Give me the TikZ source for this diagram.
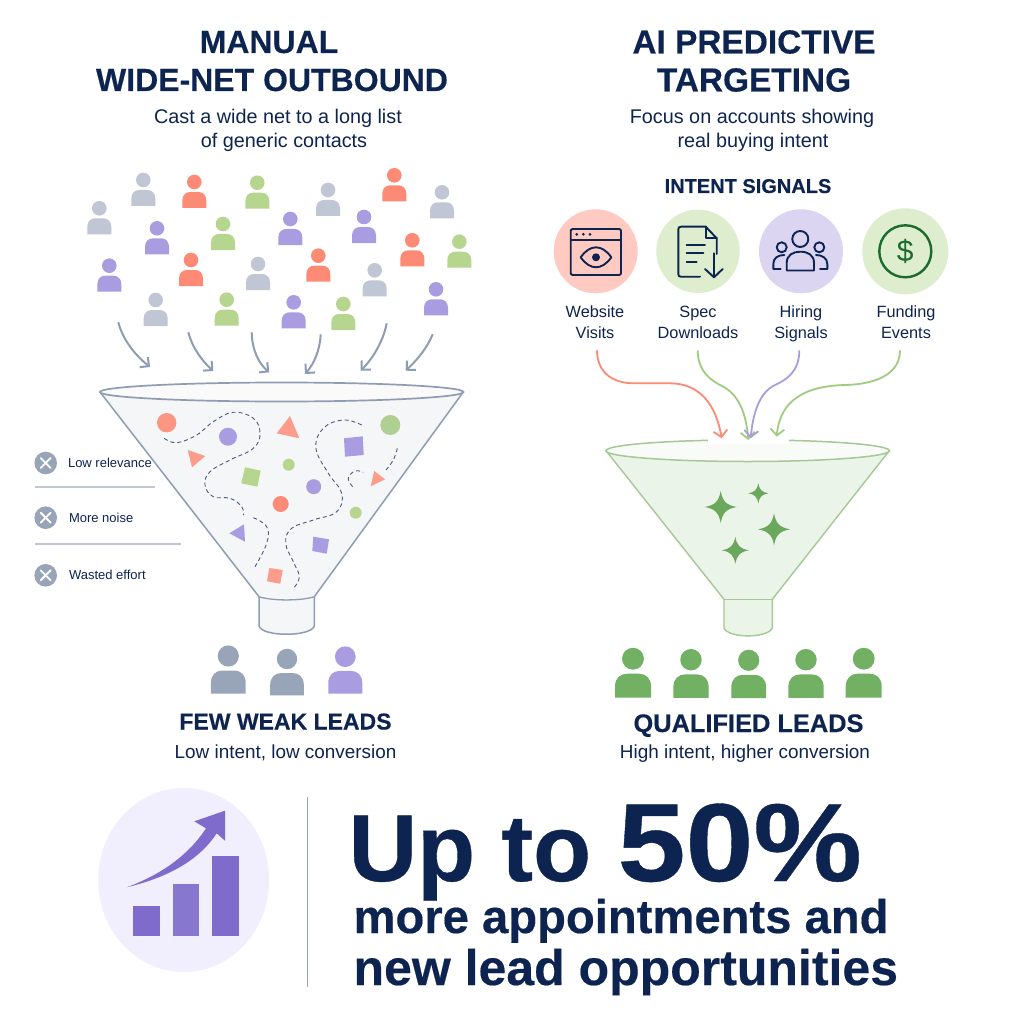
\documentclass[tikz,border=0pt]{standalone}
\usepackage{fontspec}
\setmainfont{Liberation Sans}
\newfontfamily\heavyfont{Liberation Sans}[BoldFeatures={FakeBold=0.35}]
\newfontfamily\wideheavy{Liberation Sans}[BoldFeatures={FakeBold=0.35,FakeStretch=1.1}]
\usetikzlibrary{arrows.meta}

\definecolor{navy}{HTML}{0E2450}
\definecolor{leadgrey}{HTML}{C0C6D3}
\definecolor{leadcoral}{HTML}{FC8A75}
\definecolor{leadgreen}{HTML}{B6D68F}
\definecolor{leadpurple}{HTML}{AA9CE0}
\definecolor{slateline}{HTML}{8E9DB3}
\definecolor{slatefill}{HTML}{98A5B8}
\definecolor{okgreen}{HTML}{72B063}
\definecolor{okline}{HTML}{A5C896}
\definecolor{dollargreen}{HTML}{1B6A2E}
\definecolor{barpurple}{HTML}{7E6BCB}
\definecolor{paleviolet}{HTML}{F1EEFD}

\newcommand{\fs}[1]{\fontsize{#1}{#1}\selectfont}

% x, y of the head centre, size, colour
\newcommand{\leadperson}[4]{
  \begin{scope}[shift={(#1,#2)},scale=#3]
    \fill[#4] (0,0) circle (7.3);
    \fill[#4] (-12,26) -- (-12,18.5) .. controls (-12,13) and (-8.5,10) .. (-4,10) -- (4,10)
      .. controls (8.5,10) and (12,13) .. (12,18.5) -- (12,26) -- cycle;
  \end{scope}
}
% x, y, reach
\newcommand{\sparkle}[3]{
  \begin{scope}[shift={(#1,#2)},scale=#3]
    \fill[okgreen!95!black] (0,-1) .. controls (0.12,-0.35) and (0.35,-0.12) .. (1,0)
      .. controls (0.35,0.12) and (0.12,0.35) .. (0,1)
      .. controls (-0.12,0.35) and (-0.35,0.12) .. (-1,0)
      .. controls (-0.35,-0.12) and (-0.12,-0.35) .. (0,-1) -- cycle;
  \end{scope}
}

\begin{document}
\begin{tikzpicture}[x=1pt,y=-1pt,
    title/.style={anchor=base,text=navy,font=\heavyfont\fs{32}\bfseries},
    subtitle/.style={anchor=base,text=navy,font=\fs{19.8}},
    outcome/.style={anchor=base,text=navy,font=\fs{18.9}},
    signal/.style={anchor=base,text=navy,font=\fs{16.3}},
    result/.style={anchor=base,text=navy,font=\heavyfont\bfseries},
    cost/.style={anchor=base west,text=navy,font=\fs{13}},
    big/.style={anchor=base west,text=navy,font=\heavyfont\bfseries},
    drop/.style={slateline,line width=2pt,-{Straight Barb[length=6.5pt,width=13pt]}},
    flow/.style={line width=1.8pt,-{Straight Barb[length=6.5pt,width=14pt]}},
    wander/.style={draw=navy!75,line width=0.9pt,dash pattern=on 4pt off 3pt},
    icon/.style={draw=navy,line width=1.9pt,line join=round,line cap=round},
    xcross/.style={white,line width=1.8pt,line cap=round},
    rule/.style={draw=leadgrey,line width=1.2pt}]
  \useasboundingbox (0,0) rectangle (1024,1024);
  \fill[white] (0,0) rectangle (1024,1024);

  % headings
  \node[title] (lefttop) at (269,53) {MANUAL};
  \node[title] (leftsub) at (272,91) {WIDE-NET OUTBOUND};
  \node[title,font=\heavyfont\fs{33.4}\bfseries] (righttop) at (754,53.5) {AI PREDICTIVE};
  \node[title,font=\heavyfont\fs{33.4}\bfseries] (rightsub) at (754,91.5) {TARGETING};
  \node[subtitle] (castone) at (278,124) {Cast a wide net to a long list};
  \node[subtitle] (casttwo) at (284,148) {of generic contacts};
  \node[subtitle] (focusone) at (752,124) {Focus on accounts showing};
  \node[subtitle] (focustwo) at (753,148) {real buying intent};
  \node[result,font=\heavyfont\fs{20}\bfseries] (intent) at (748,193) {INTENT SIGNALS};

  % crowd
  \foreach \px/\py in {99.3/208.3,143.3/180,328/190,442/192.3,258/264,155.7/300,374.7/270.3}
    \leadperson{\px}{\py}{1}{leadgrey};
  \foreach \px/\py in {194.3/182,394.3/175.3,191/260,412.3/240.3,318.3/255.7}
    \leadperson{\px}{\py}{1}{leadcoral};
  \foreach \px/\py in {257.3/182.7,223/224,459.3/241.7,226.7/299.7,343.3/304}
    \leadperson{\px}{\py}{1}{leadgreen};
  \foreach \px/\py in {109.3/265.7,157/228.3,290.3/219,364/217,436/289.3,293.7/302.3}
    \leadperson{\px}{\py}{1}{leadpurple};

  \coordinate (dropa) at (118.3,322.3);
  \coordinate (dropb) at (188.3,332.3);
  \coordinate (dropc) at (251.7,332.3);
  \coordinate (dropd) at (320.7,334.3);
  \coordinate (drope) at (386.7,323.3);
  \coordinate (dropf) at (432.7,334.3);
  \coordinate (inta) at (150,367);
  \coordinate (intb) at (213.3,371);
  \coordinate (intc) at (269.3,372.3);
  \coordinate (intd) at (305,374);
  \coordinate (inte) at (360.7,370.7);
  \coordinate (intf) at (405.7,370.7);
  \draw[drop] (dropa) .. controls (123,340) and (135,355) .. (inta);
  \draw[drop] (dropb) .. controls (192,347) and (202,361) .. (intb);
  \draw[drop] (dropc) .. controls (252,350) and (259,364) .. (intc);
  \draw[drop] (dropd) .. controls (320,350) and (314,364) .. (intd);
  \draw[drop] (drope) .. controls (383,342) and (373,358) .. (inte);
  \draw[drop] (dropf) .. controls (427,348) and (418,359) .. (intf);

  % left funnel
  \draw[slateline,line width=1.5pt,fill=slatefill!10,line join=round] (100,392) -- (259,596.7) -- (259,626)
    .. controls (262,637) and (311,637) .. (314.3,626) -- (314.3,596.7) -- (463.3,392) -- cycle;
  \draw[slateline,line width=1.3pt] (259,596.7) .. controls (272,601) and (301,601) .. (314.3,596.7);
  \draw[slateline,line width=1.7pt,fill=slatefill!5] (281.7,392) ellipse (181.7 and 9.5);

  \draw[wander] plot[smooth,tension=0.7] coordinates {(164.3,438.3)(176.7,442.7)(196.7,435)(213.3,421.7)(233.3,412.3)(253.3,418.3)(260,433.3)(253.3,448.3)(230,460)(210,471.7)(205,485)(213.3,496.7)(230,498.3)(241.7,506.7)(243.3,515)};
  \draw[wander] plot[smooth,tension=0.7] coordinates {(253.3,517.7)(266.7,526.7)(266.7,543.3)(255,566.7)};
  \draw[wander] plot[smooth,tension=0.7] coordinates {(361.7,425)(343.3,420)(323.3,428.3)(316,448.3)(328.3,473.3)(341.7,493.3)(336.7,511.7)(313.3,520)(291.7,528.3)(285.7,543.3)(293.3,561.7)(299.3,576.7)(294.3,587.3)};
  \draw[wander] plot[smooth,tension=0.7] coordinates {(397.3,448.3)(393.3,460)(386,470)};
  \draw[wander] plot[smooth,tension=0.7] coordinates {(352.7,486.7)(348.3,478.3)(355,471)(363.3,472.3)};

  \fill[leadcoral!90] (166.7,422.7) circle (9.7);
  \fill[leadpurple] (228,436.7) circle (9);
  \fill[leadgreen!60!okline] (390.3,425) circle (10);
  \fill[leadgreen] (288.7,464.7) circle (6);
  \fill[leadpurple] (313.7,486.7) circle (7.5);
  \fill[leadcoral] (280.7,504) circle (8);
  \fill[leadgreen] (355.7,512.7) circle (6);
  \fill[leadcoral!85] (290,416) -- (276.7,433.3) -- (299.3,438.3) -- cycle;
  \fill[leadcoral!85] (187.7,450) -- (205.3,456) -- (192,467.3) -- cycle;
  \fill[leadcoral!85] (374.3,471) -- (385,479.3) -- (370.7,486.3) -- cycle;
  \fill[leadpurple] (244,524.3) -- (229.3,533.3) -- (245,541.7) -- cycle;
  \fill[leadpurple] (344,438.3) -- (362.7,436.3) -- (363.7,455) -- (345,456.7) -- cycle;
  \fill[leadgreen] (245,467.3) -- (260.7,470.7) -- (257.3,486.7) -- (241.3,483.3) -- cycle;
  \fill[leadpurple] (313.3,536.7) -- (329,539.3) -- (326.7,553.7) -- (312.3,551) -- cycle;
  \fill[leadcoral!85] (269.3,568) -- (282.7,570) -- (280.3,583.7) -- (267,581.3) -- cycle;

  % what it costs
  \foreach \cy in {463,517.7,575.3} {
    \fill[slatefill] (45.7,\cy) circle (11.3);
    \draw[xcross] (40.7,\cy-5) -- (50.7,\cy+5);
    \draw[xcross] (40.7,\cy+5) -- (50.7,\cy-5);
  }
  \node[cost] (lowrel) at (64.5,467.5) {Low relevance};
  \node[cost] (noise) at (65.5,522.2) {More noise};
  \node[cost] (waste) at (65.5,579.7) {Wasted effort};
  \draw[rule] (35,487) -- (154.7,487);
  \draw[rule] (35,544) -- (181.3,544);

  % weak leads
  \leadperson{228.3}{656}{1.45}{slatefill}
  \leadperson{287}{659}{1.4}{slatefill}
  \leadperson{345.3}{656.7}{1.42}{leadpurple}
  \node[result,font=\heavyfont\fs{23}\bfseries] (weak) at (285.5,729.5) {FEW WEAK LEADS};
  \node[outcome] (weakline) at (285.5,758) {Low intent, low conversion};

  % signals
  \fill[leadcoral!45] (595.7,251.3) circle (42);
  \fill[leadgreen!45] (698,251.3) circle (41.7);
  \fill[leadpurple!42] (801,251.3) circle (42);
  \fill[leadgreen!45] (905.3,251.3) circle (43);

  \draw[icon,rounded corners=2pt] (570.7,229) rectangle (621,275);
  \draw[icon] (570.7,240) -- (621,240);
  \foreach \dx in {576.7,583.3,590} \fill[navy] (\dx,234.3) circle (1.5);
  \draw[icon] (580.7,257.3) .. controls (590,244) and (602,244) .. (611.3,257.3)
    .. controls (602,270.6) and (590,270.6) .. (580.7,257.3) -- cycle;
  \fill[navy] (596,257.3) circle (4);

  \draw[icon] (700,276.7) -- (681,276.7) .. controls (679,276.7) and (678.3,276) .. (678.3,274) -- (678.3,229.5)
    .. controls (678.3,227.5) and (679,226.7) .. (681,226.7) -- (705.7,226.7) -- (716.7,238.3) -- (716.7,254);
  \draw[icon] (705.7,226.7) -- (705.7,238.3) -- (716.7,238.3);
  \draw[icon] (686.7,245) -- (705,245);
  \draw[icon] (686.7,253.3) -- (703.3,253.3);
  \draw[icon] (686.7,262.3) -- (696.7,262.3);
  \draw[icon] (714,253.3) -- (714,277.3);
  \draw[icon] (705,269) -- (714,277.3) -- (722.7,269);

  \draw[icon] (800.3,239) circle (8);
  \draw[icon] (781.7,247.3) circle (5);
  \draw[icon] (819.3,247.3) circle (5);
  \draw[icon] (786.7,270.5) -- (786.7,263) .. controls (786.7,255) and (793,251.7) .. (800.3,251.7)
    .. controls (808,251.7) and (814,255) .. (814,263) -- (814,270.5) -- cycle;
  \draw[icon] (780.7,269) -- (773.3,269) -- (773.3,264) .. controls (773.3,258) and (778,255) .. (784.3,255);
  \draw[icon] (820,269) -- (827.3,269) -- (827.3,264) .. controls (827.3,258) and (822,255) .. (816,255);

  \draw[dollargreen,line width=2.4pt] (905.3,251.3) circle (26);
  \node[text=dollargreen,font=\fs{30}] (dollar) at (905.3,251) {\$};

  \node[signal] (website) at (595,317) {Website};
  \node[signal] (visits) at (595,338) {Visits};
  \node[signal] (spec) at (698,317) {Spec};
  \node[signal] (downloads) at (698,338) {Downloads};
  \node[signal] (hiring) at (801,317) {Hiring};
  \node[signal] (signals) at (801,338) {Signals};
  \node[signal] (funding) at (906,317) {Funding};
  \node[signal] (events) at (906,338) {Events};

  % right funnel
  \draw[okline,line width=1.4pt,fill=okgreen!14,line join=round] (606,450.7) -- (724,599.3) -- (724,628)
    .. controls (728,638.5) and (768,638.5) .. (772.3,628) -- (772.3,599.3) -- (889.3,450.7) -- cycle;
  \draw[okline,line width=1.3pt] (724,599.3) -- (772.3,599.3);
  \draw[okline,line width=1.5pt,fill=okgreen!5] (747.7,450.7) ellipse (141.7 and 10.8);
  \fill[white] (708.3,436) rectangle (789,444);

  \sparkle{720.7}{507}{16}
  \sparkle{758.3}{493.3}{10}
  \sparkle{774}{529.3}{16}
  \sparkle{735.3}{550.3}{13.5}

  \coordinate (outweb) at (597,350.3);
  \coordinate (outspec) at (697.7,350.3);
  \coordinate (outhire) at (799.3,350.3);
  \coordinate (outfund) at (900,350.3);
  \coordinate (inweb) at (721.7,438.3);
  \coordinate (inspec) at (748.3,440);
  \coordinate (inhire) at (750.7,438.3);
  \coordinate (infund) at (776.7,436.7);
  \draw[flow,leadcoral] (outweb) .. controls (597,372) and (612,383.3) .. (634,383.3) -- (670,383.3)
    .. controls (700,383.3) and (716,405) .. (inweb);
  \draw[flow,leadgreen!70!okgreen] (outspec) .. controls (697.7,372) and (712,381) .. (722,386)
    .. controls (738,394) and (746,412) .. (inspec);
  \draw[flow,leadpurple] (outhire) .. controls (799.3,372) and (786,380) .. (775,385)
    .. controls (760,392) and (753,412) .. (inhire);
  \draw[flow,leadgreen!70!okgreen] (outfund) .. controls (900,372) and (880,384) .. (845,385)
    .. controls (805,386) and (780,400) .. (infund);

  % qualified leads
  \foreach \px/\py/\ps in {633/658.7/1.5,691/659.7/1.47,748.7/660.3/1.45,806/659.7/1.47,863.7/658.7/1.5}
    \leadperson{\px}{\py}{\ps}{okgreen};
  \node[result,font=\heavyfont\fs{25.4}\bfseries] (qualified) at (748.5,732) {QUALIFIED LEADS};
  \node[outcome] (qualline) at (745,758) {High intent, higher conversion};

  % bottom band
  \fill[paleviolet] (183.7,880) ellipse (85.5 and 92);
  \fill[barpurple] (133.3,906) rectangle (160,936);
  \fill[barpurple!92!white] (172.7,884.3) rectangle (199.3,936);
  \fill[barpurple] (212,856) rectangle (238.7,936);
  \fill[barpurple] (126.7,887.3) .. controls (160,875) and (188,856) .. (206,828.3) -- (194.3,821.3) -- (225,810.7)
    -- (225,840.7) -- (216.7,833.3) .. controls (198,862) and (165,878) .. (126.7,887.3) -- cycle;
  \draw[slatefill,line width=1.3pt] (307.7,797.3) -- (307.7,987.3);

  \node[big,font=\heavyfont\fs{95}\bfseries] (upto) at (345,881) {Up to {\wideheavy\bfseries\fs{111}50\%}};
  \node[big,font=\heavyfont\fs{47.2}\bfseries] (moreline) at (350,933) {more appointments and};
  \node[big,font=\heavyfont\fs{50}\bfseries] (newline) at (350,985) {new lead opportunities};
\end{tikzpicture}
\end{document}
